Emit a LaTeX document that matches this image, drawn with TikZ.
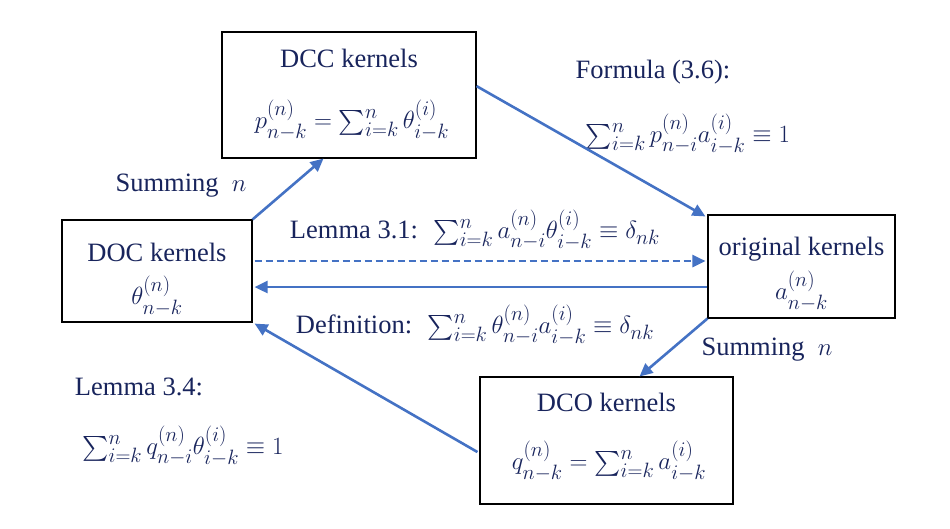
\documentclass[tikz,border=0pt]{standalone}
\usepackage{amsmath}
\usepackage{fontspec}
\setmainfont{Liberation Serif}
\usetikzlibrary{arrows.meta,calc}
\definecolor{txtc}{RGB}{24,36,92}
\definecolor{arrc}{RGB}{68,114,196}
\begin{document}
\begin{tikzpicture}[x=1pt,y=-1pt,
  box/.style={draw=black,line width=1.1pt,minimum width=#1,inner sep=0pt},
  lbl/.style={text=txtc,font=\fontsize{26.5}{30}\selectfont,inner sep=0pt,anchor=center},
  mlbl/.style={text=txtc,font=\fontsize{28}{32}\selectfont,inner sep=0pt,anchor=center},
  conn/.style={draw=arrc,line width=2.6pt,-{Triangle[length=13pt,width=12pt]}},
  dconn/.style={conn,dash pattern=on 7pt off 4pt}]
\useasboundingbox (0,0) rectangle (950,528);
% boxes
\node[box=254pt,minimum height=126pt] (dcc) at (349,95) {};
\node[box=190pt,minimum height=102pt] (doc) at (157,271) {};
\node[box=187pt,minimum height=103pt] (orig) at (801.5,266.5) {};
\node[box=253pt,minimum height=127pt] (dco) at (606.5,440.5) {};
% box texts
\node[lbl] (dcct) at (349,58) {DCC kernels};
\node[mlbl] (dccf) at (352,120) {$p_{n-k}^{(n)}=\sum_{i=k}^{n}\theta_{i-k}^{(i)}$};
\node[lbl] (doct) at (157,252) {DOC kernels};
\node[mlbl] (docf) at (157,296) {$\theta_{n-k}^{(n)}$};
\node[lbl] (origt) at (801.5,249) {original kernels};
\node[mlbl] (origf) at (801.5,291) {$a_{n-k}^{(n)}$};
\node[lbl] (dcot) at (606.5,402) {DCO kernels};
\node[mlbl] (dcof) at (609,461) {$q_{n-k}^{(n)}=\sum_{i=k}^{n}a_{i-k}^{(i)}$};
% free labels
\node[lbl] (sum1) at (181,186) {Summing \ $n$};
\node[lbl] (form) at (653,72) {Formula (3.6):};
\node[mlbl] (formf) at (688,134) {$\sum_{i=k}^{n}p_{n-i}^{(n)}a_{i-k}^{(i)}\equiv 1$};
\node[lbl] (lem31) at (475,230) {Lemma 3.1: \ {\fontsize{28}{32}\selectfont$\sum_{i=k}^{n}a_{n-i}^{(n)}\theta_{i-k}^{(i)}\equiv\delta_{nk}$}};
\node[lbl] (defn) at (475,325) {Definition: \ {\fontsize{28}{32}\selectfont$\sum_{i=k}^{n}\theta_{n-i}^{(n)}a_{i-k}^{(i)}\equiv\delta_{nk}$}};
\node[lbl] (sum2) at (767,350) {Summing \ $n$};
\node[lbl] (lem34) at (139,387) {Lemma 3.4:};
\node[mlbl] (lem34f) at (183,446) {$\sum_{i=k}^{n}q_{n-i}^{(n)}\theta_{i-k}^{(i)}\equiv 1$};
% connectors
\coordinate (dashy) at (0,261);
\coordinate (soly) at (0,287);
\draw[conn] (doc.north east) -- ($(dcc.south west)!0.4!(dcc.south east)$);
\draw[conn] ($(dcc.north east)!0.43!(dcc.south east)$) -- ($(orig.north west)+(-2,2)$);
\draw[dconn] ($(doc.east |- dashy)+(2,0)$) -- ($(orig.west |- dashy)+(-2,0)$);
\draw[conn] (orig.west |- soly) -- ($(doc.east |- soly)+(2,0)$);
\draw[conn] (orig.south west) -- ($(dco.north west)!0.63!(dco.north east)$);
\draw[conn] ($(dco.north west)!0.59!(dco.south west)+(-2,0)$) -- ($(doc.south east)+(2,1)$);
\end{tikzpicture}
\end{document}
